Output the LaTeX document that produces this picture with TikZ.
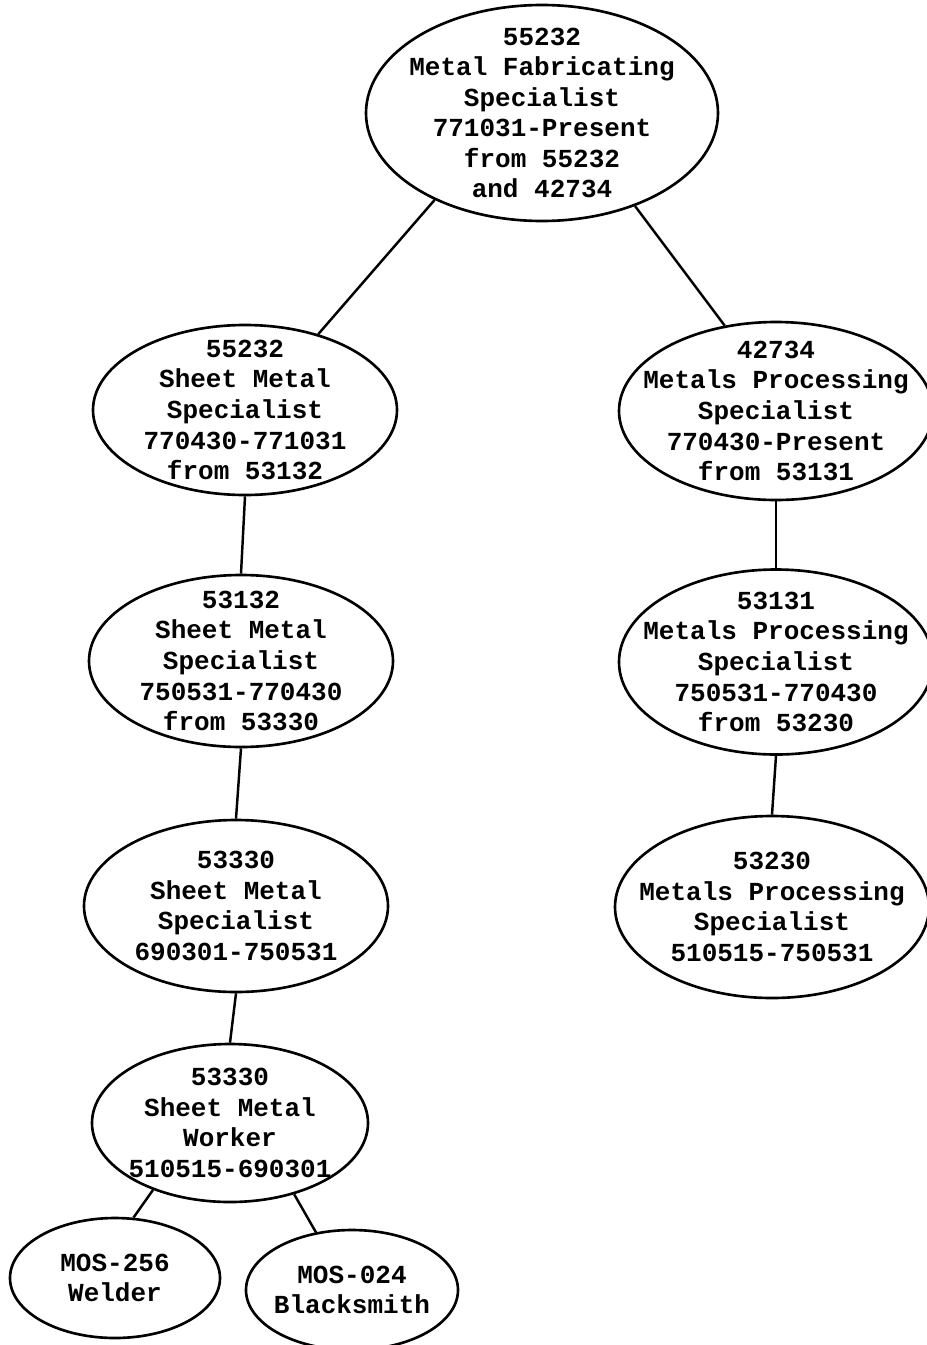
\documentclass[tikz,border=0pt]{standalone}
\usepackage{fontspec}
\newfontfamily\jobfont{Liberation Mono}
\usepackage{tikz}
\usetikzlibrary{shapes.geometric}

\begin{document}
\begin{tikzpicture}[
    job/.style={ellipse, draw, line width=1.5pt, align=center, inner xsep=-1cm, inner ysep=-1cm,
        font=\jobfont\bfseries\fontsize{14.8}{17.4}\selectfont},
    link/.style={line width=1.4pt}]
    \useasboundingbox (0,0) rectangle (18.52,-26.9);

    % Jobs
    \node[job, minimum width=7.04cm, minimum height=4.32cm] (MFS) at (10.84,-2.26)
        {55232\\Metal Fabricating\\Specialist\\771031-Present\\from 55232\\and 42734};
    \node[job, minimum width=6.08cm, minimum height=3.4cm] (SMS1) at (4.9,-8.2)
        {55232\\Sheet Metal\\Specialist\\770430-771031\\from 53132};
    \node[job, minimum width=6.08cm, minimum height=3.44cm] (SMS2) at (4.82,-13.22)
        {53132\\Sheet Metal\\Specialist\\750531-770430\\from 53330};
    \node[job, minimum width=6.08cm, minimum height=3.44cm] (SMS3) at (4.72,-18.12)
        {53330\\Sheet Metal\\Specialist\\690301-750531};
    \node[job, minimum width=5.52cm, minimum height=3.16cm] (SMW) at (4.6,-22.46)
        {53330\\Sheet Metal\\Worker\\510515-690301};
    \node[job, minimum width=4.2cm, minimum height=2.4cm] (WELDER) at (2.3,-25.56)
        {MOS-256\\Welder};
    \node[job, minimum width=4.24cm, minimum height=2.4cm] (SMITH) at (7.04,-25.8)
        {MOS-024\\Blacksmith};
    \node[job, minimum width=6.28cm, minimum height=3.56cm] (MPS1) at (15.52,-8.22)
        {42734\\Metals Processing\\Specialist\\770430-Present\\from 53131};
    \node[job, minimum width=6.28cm, minimum height=3.7cm] (MPS2) at (15.52,-13.24)
        {53131\\Metals Processing\\Specialist\\750531-770430\\from 53230};
    \node[job, minimum width=6.28cm, minimum height=3.64cm] (MPS3) at (15.44,-18.14)
        {53230\\Metals Processing\\Specialist\\510515-750531};

    % Lines
    \draw[link] (MFS.219) -- (SMS1.46);
    \draw[link] (MFS.315) -- (MPS1.121);
    \draw[link] (SMS1.south) -- (SMS2.north);
    \draw[link] (SMS2.south) -- (SMS3.north);
    \draw[link] (SMS3.south) -- (SMW.north);
    \draw[link] (SMW.221) -- (WELDER.73);
    \draw[link] (SMW.312) -- (SMITH.122);
    \draw[link] (MPS1.south) -- (MPS2.north);
    \draw[link] (MPS2.south) -- (MPS3.north);
\end{tikzpicture}
\end{document}
